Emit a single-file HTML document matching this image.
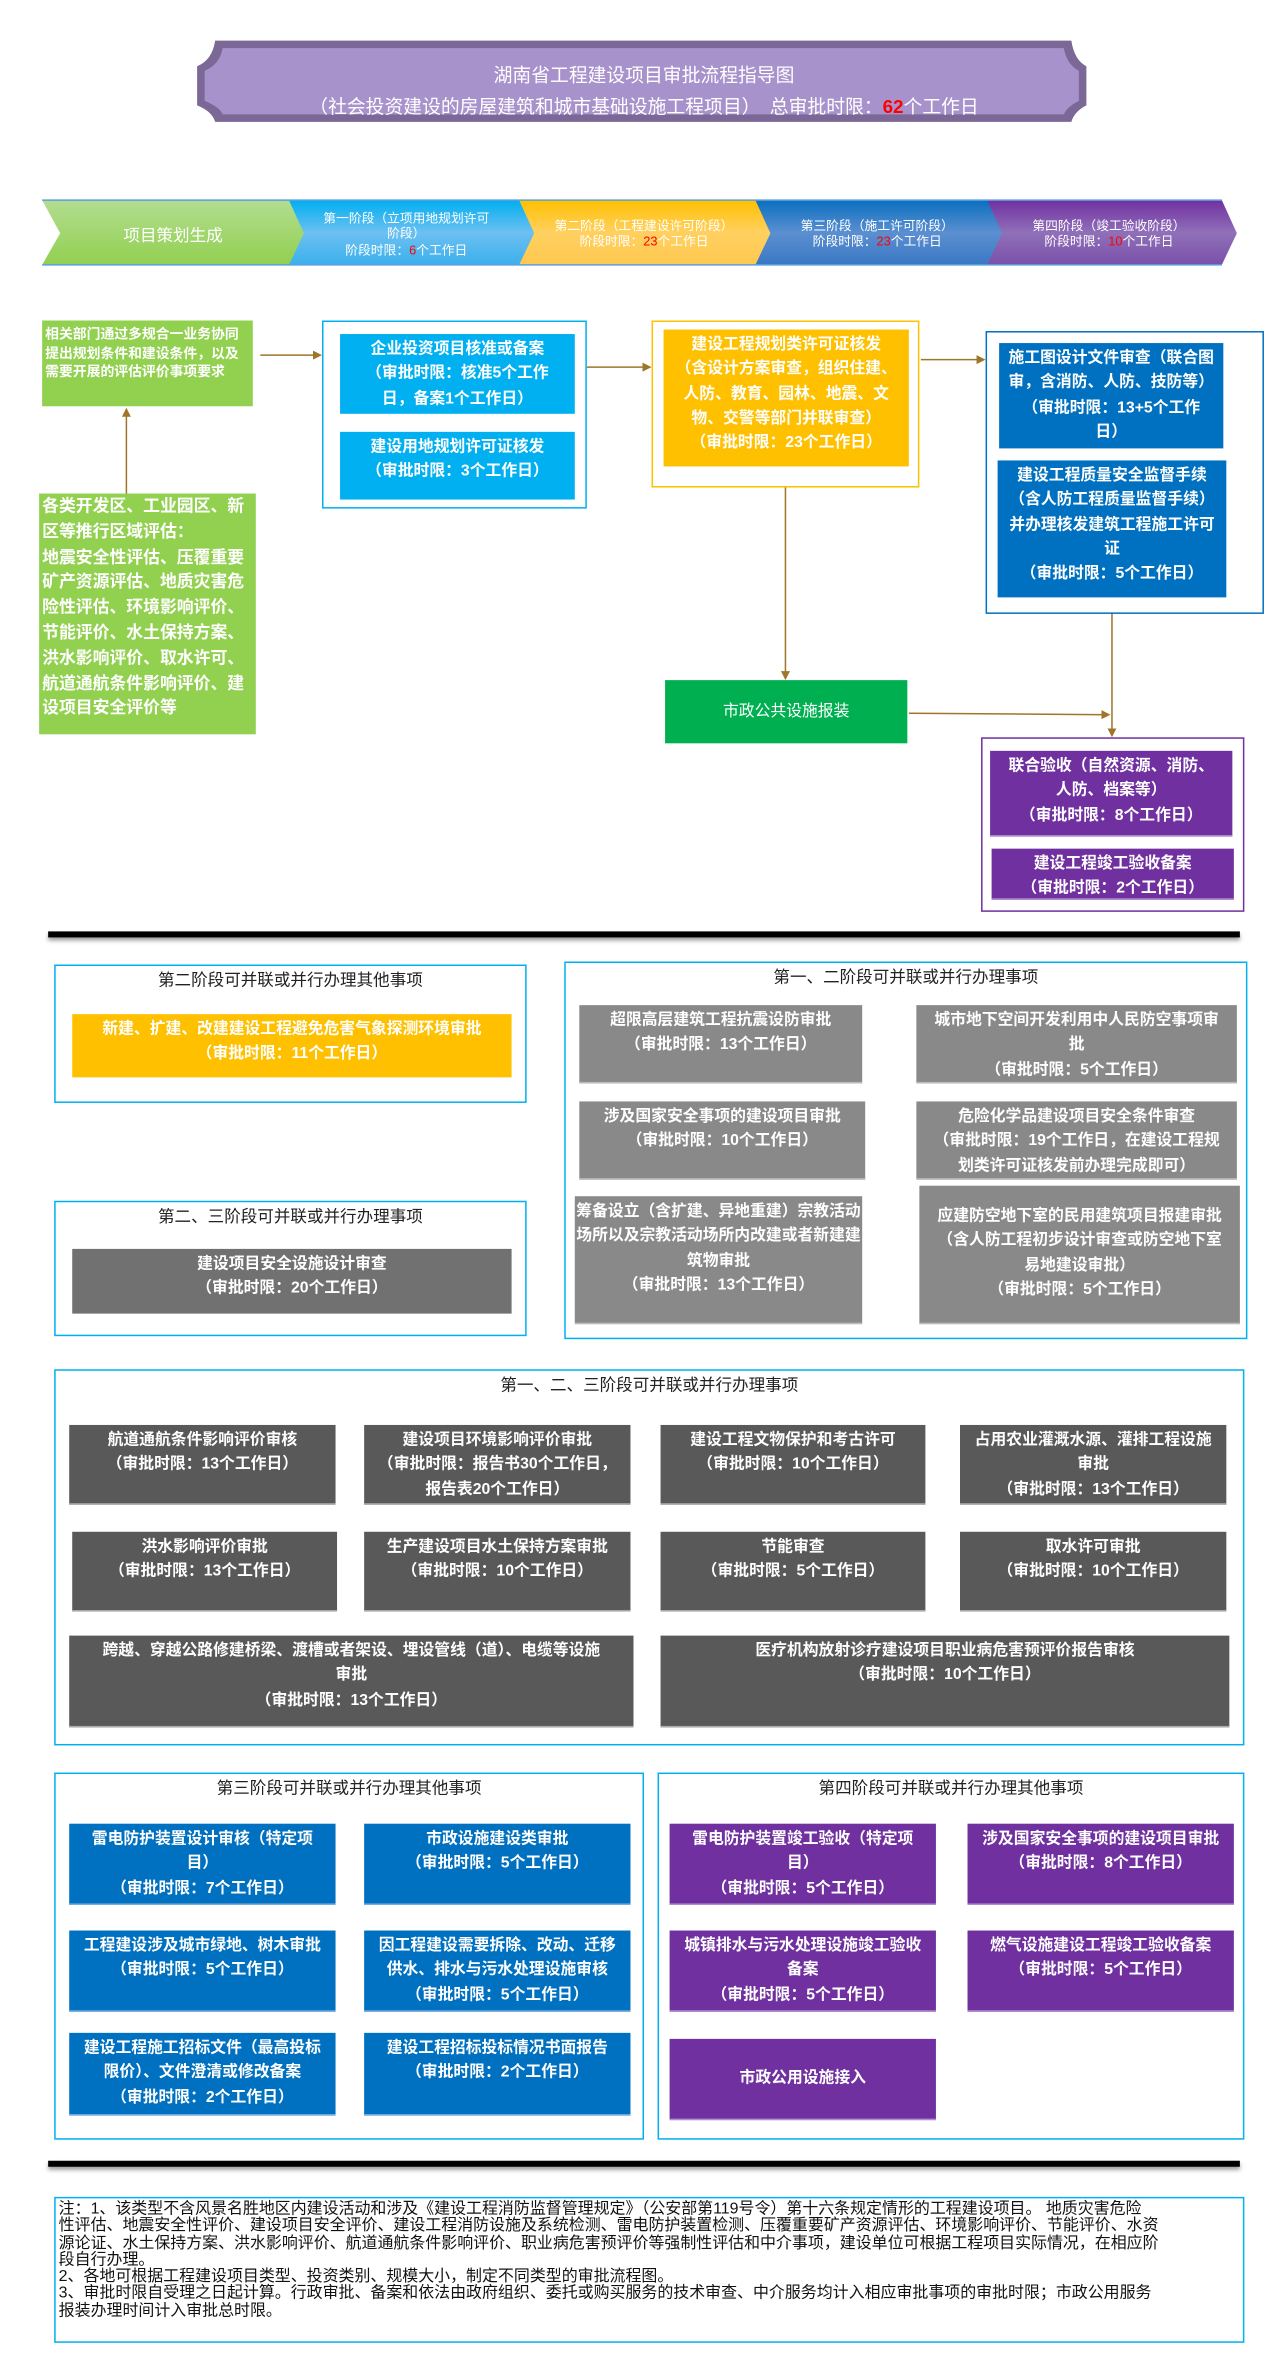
<!DOCTYPE html>
<html><head><meta charset="utf-8">
<style>
html,body{margin:0;padding:0;background:#fff;}
body{width:1288px;height:2363px;overflow:hidden;position:relative;}
#s{position:absolute;left:0;top:0;width:856px;height:1571px;transform:scale(1.5047);transform-origin:0 0;font-family:"Liberation Sans","Noto Sans CJK SC",sans-serif;}
.a{position:absolute;box-sizing:border-box;}
.b{position:absolute;box-sizing:border-box;display:flex;flex-direction:column;align-items:center;justify-content:flex-start;text-align:center;color:#fff;font-weight:bold;font-size:10.5px;line-height:16.3px;padding-top:2px;}
.c{justify-content:center;padding-top:0;}
.g{background:#898989;border-bottom:1px solid #bbb;}
.d{background:#595959;border-bottom:1px solid #aaa;}
.bl{background:#0070c0;border-bottom:1px solid #7aaee0;}
.pu{background:#7030a0;border-bottom:1px solid #b090d0;}
.frame{position:absolute;box-sizing:border-box;border:1px solid #00b0f0;}
.t{position:absolute;font-size:11px;color:#222;text-align:center;}
</style></head><body><div id="s">

<svg class="a" style="left:0;top:0" width="856" height="200">
<path d="M143,27 H712 Q714,40 722,44 V70 Q714,74 712,81 H143 Q141,74 131,70 V44 Q141,40 143,27 Z" fill="#7b6896"/>
<path d="M148,32 H707 Q709,43 717,47 V67 Q709,71 707,76 H148 Q146,71 136,67 V47 Q146,43 148,32 Z" fill="#a892cc"/>
<text x="428" y="54" text-anchor="middle" font-size="12.5" fill="#fff" font-family="Liberation Sans,Noto Sans CJK SC,sans-serif">湖南省工程建设项目审批流程指导图</text>
<text x="428" y="75" text-anchor="middle" font-size="12.5" fill="#fff" font-family="Liberation Sans,Noto Sans CJK SC,sans-serif">（社会投资建设的房屋建筑和城市基础设施工程项目）　总审批时限：<tspan fill="#f00" font-weight="bold">62</tspan>个工作日</text>
<defs>
<linearGradient id="g1" x1="0" y1="0" x2="0" y2="1"><stop offset="0" stop-color="#b2dd90"/><stop offset="1" stop-color="#92d050"/></linearGradient>
<linearGradient id="g2" x1="0" y1="0" x2="0" y2="1"><stop offset="0" stop-color="#00aeef"/><stop offset=".5" stop-color="#6cc0f2"/><stop offset="1" stop-color="#3cb0ec"/></linearGradient>
<linearGradient id="g3" x1="0" y1="0" x2="0" y2="1"><stop offset="0" stop-color="#ffc000"/><stop offset=".5" stop-color="#ffd060"/><stop offset="1" stop-color="#ffc850"/></linearGradient>
<linearGradient id="g4" x1="0" y1="0" x2="0" y2="1"><stop offset="0" stop-color="#0a6fc0"/><stop offset=".5" stop-color="#5b8fd0"/><stop offset="1" stop-color="#3a78c4"/></linearGradient>
<linearGradient id="g5" x1="0" y1="0" x2="0" y2="1"><stop offset="0" stop-color="#7030a0"/><stop offset=".5" stop-color="#9070b8"/><stop offset="1" stop-color="#7a50aa"/></linearGradient>
</defs>
<polygon points="650,133 812,133 822,155 812,176 650,176 660,155" fill="url(#g5)"/>
<polygon points="497,133 656,133 666,155 656,176 497,176 507,155" fill="url(#g4)"/>
<polygon points="340,133 502,133 512,155 502,176 340,176 350,155" fill="url(#g3)"/>
<polygon points="182,133 345,133 355,155 345,176 182,176 192,155" fill="url(#g2)"/>
<polygon points="28,133 192,133 202,155 192,176 28,176 40,155" fill="url(#g1)"/>
<line x1="28" y1="133" x2="812" y2="133" stroke="#5aa0e0" stroke-width="1"/>
<line x1="28" y1="176" x2="812" y2="176" stroke="#5aa0e0" stroke-width="1"/>
<g font-family="Liberation Sans,Noto Sans CJK SC,sans-serif" fill="#fff" text-anchor="middle">
<text x="115" y="160" font-size="11">项目策划生成</text>
<text x="270" y="148" font-size="8.5">第一阶段（立项用地规划许可</text>
<text x="270" y="158" font-size="8.5">阶段）</text>
<text x="270" y="169" font-size="8.5">阶段时限：<tspan fill="#f00">6</tspan>个工作日</text>
<text x="428" y="153" font-size="8.5">第二阶段（工程建设许可阶段）</text>
<text x="428" y="163" font-size="8.5">阶段时限：<tspan fill="#f00">23</tspan>个工作日</text>
<text x="583" y="153" font-size="8.5">第三阶段（施工许可阶段）</text>
<text x="583" y="163" font-size="8.5">阶段时限：<tspan fill="#f00">23</tspan>个工作日</text>
<text x="737" y="153" font-size="8.5">第四阶段（竣工验收阶段）</text>
<text x="737" y="163" font-size="8.5">阶段时限：<tspan fill="#f00">10</tspan>个工作日</text>
</g>
</svg>

<svg class="a" style="left:0;top:200" width="856" height="430">
<defs><marker id="ar" markerWidth="6" markerHeight="6" refX="5" refY="3" orient="auto"><path d="M0,0 L6,3 L0,6 Z" fill="#a0742a"/></marker></defs>
<g stroke="#a0742a" stroke-width="1" fill="none">
<line x1="173" y1="36" x2="213" y2="36" marker-end="url(#ar)"/>
<line x1="84" y1="128" x2="84" y2="72" marker-end="url(#ar)"/>
<line x1="390" y1="44" x2="432" y2="44" marker-end="url(#ar)"/>
<line x1="612" y1="39" x2="654" y2="39" marker-end="url(#ar)"/>
<line x1="522" y1="124" x2="522" y2="251" marker-end="url(#ar)"/>
<line x1="604" y1="274" x2="737" y2="275" marker-end="url(#ar)"/>
<line x1="739" y1="207" x2="739" y2="289" marker-end="url(#ar)"/>
</g>
</svg>

<div class="b" style="left:28px;top:213px;width:140px;height:57px;background:#92d050;font-size:9.2px;line-height:12.5px;align-items:flex-start;text-align:left;padding:3px 2px;white-space:nowrap;">相关部门通过多规合一业务协同<br>提出规划条件和建设条件，以及<br>需要开展的评估评价事项要求</div>
<div class="b" style="left:26px;top:328px;width:144px;height:160px;background:#92d050;font-size:11.2px;line-height:16.8px;align-items:flex-start;text-align:left;padding:1px 2px;white-space:nowrap;">各类开发区、工业园区、新<br>区等推行区域评估：<br>地震安全性评估、压覆重要<br>矿产资源评估、地质灾害危<br>险性评估、环境影响评价、<br>节能评价、水土保持方案、<br>洪水影响评价、取水许可、<br>航道通航条件影响评价、建<br>设项目安全评价等</div>

<div class="frame" style="left:214px;top:213px;width:176px;height:125px;"></div>
<div class="b" style="left:226px;top:222px;width:156px;height:53px;background:#00b0f0;">企业投资项目核准或备案<br>（审批时限：核准5个工作<br>日，备案1个工作日）</div>
<div class="b" style="left:226px;top:287px;width:156px;height:45px;background:#00b0f0;">建设用地规划许可证核发<br>（审批时限：3个工作日）</div>

<div class="frame" style="left:433px;top:213px;width:178px;height:111px;border-color:#ffc000;"></div>
<div class="b" style="left:441px;top:219px;width:163px;height:91px;background:#ffc000;">建设工程规划类许可证核发<br>（含设计方案审查，组织住建、<br>人防、教育、园林、地震、文<br>物、交警等部门并联审查）<br>（审批时限：23个工作日）</div>

<div class="frame" style="left:655px;top:220px;width:185px;height:188px;border-color:#0070c0;"></div>
<div class="b" style="left:664px;top:228px;width:149px;height:70px;background:#0070c0;">施工图设计文件审查（联合图<br>审，含消防、人防、技防等）<br>（审批时限：13+5个工作<br>日）</div>
<div class="b" style="left:663px;top:306px;width:152px;height:91px;background:#0070c0;">建设工程质量安全监督手续<br>（含人防工程质量监督手续）<br>并办理核发建筑工程施工许可<br>证<br>（审批时限：5个工作日）</div>

<div class="b c" style="left:442px;top:452px;width:161px;height:42px;background:#00b050;font-weight:normal;font-size:10.5px;">市政公共设施报装</div>

<div class="frame" style="left:652px;top:490px;width:175px;height:116px;border-color:#7030a0;"></div>
<div class="b pu" style="left:658px;top:499px;width:161px;height:57px;">联合验收（自然资源、消防、<br>人防、档案等）<br>（审批时限：8个工作日）</div>
<div class="b pu" style="left:659px;top:564px;width:161px;height:34px;">建设工程竣工验收备案<br>（审批时限：2个工作日）</div>

<div class="a" style="left:32px;top:619px;width:792px;height:4px;background:#000;box-shadow:0 2px 3px #999;"></div>

<div class="frame" style="left:36px;top:641px;width:314px;height:92px;"></div>
<div class="t" style="left:36px;top:643px;width:314px;">第二阶段可并联或并行办理其他事项</div>
<div class="b" style="left:48px;top:674px;width:292px;height:42px;background:#ffc000;">新建、扩建、改建建设工程避免危害气象探测环境审批<br>（审批时限：11个工作日）</div>

<div class="frame" style="left:36px;top:798px;width:314px;height:90px;"></div>
<div class="t" style="left:36px;top:800px;width:314px;">第二、三阶段可并联或并行办理事项</div>
<div class="b" style="left:48px;top:830px;width:292px;height:43px;background:#717171;">建设项目安全设施设计审查<br>（审批时限：20个工作日）</div>

<div class="frame" style="left:375px;top:639px;width:454px;height:251px;"></div>
<div class="t" style="left:375px;top:641px;width:454px;">第一、二阶段可并联或并行办理事项</div>
<div class="b g" style="left:385px;top:668px;width:188px;height:52px;">超限高层建筑工程抗震设防审批<br>（审批时限：13个工作日）</div>
<div class="b g" style="left:609px;top:668px;width:213px;height:52px;">城市地下空间开发利用中人民防空事项审<br>批<br>（审批时限：5个工作日）</div>
<div class="b g" style="left:385px;top:732px;width:190px;height:52px;">涉及国家安全事项的建设项目审批<br>（审批时限：10个工作日）</div>
<div class="b g" style="left:609px;top:732px;width:213px;height:52px;">危险化学品建设项目安全条件审查<br>（审批时限：19个工作日，在建设工程规<br>划类许可证核发前办理完成即可）</div>
<div class="b g" style="left:382px;top:795px;width:191px;height:85px;">筹备设立（含扩建、异地重建）宗教活动<br>场所以及宗教活动场所内改建或者新建建<br>筑物审批<br>（审批时限：13个工作日）</div>
<div class="b g" style="left:611px;top:788px;width:213px;height:92px;padding-top:12px;">应建防空地下室的民用建筑项目报建审批<br>（含人防工程初步设计审查或防空地下室<br>易地建设审批）<br>（审批时限：5个工作日）</div>

<div class="frame" style="left:36px;top:910px;width:791px;height:250px;"></div>
<div class="t" style="left:36px;top:912px;width:791px;">第一、二、三阶段可并联或并行办理事项</div>
<div class="b d" style="left:46px;top:947px;width:177px;height:53px;">航道通航条件影响评价审核<br>（审批时限：13个工作日）</div>
<div class="b d" style="left:242px;top:947px;width:177px;height:53px;">建设项目环境影响评价审批<br>（审批时限：报告书30个工作日，<br>报告表20个工作日）</div>
<div class="b d" style="left:439px;top:947px;width:176px;height:53px;">建设工程文物保护和考古许可<br>（审批时限：10个工作日）</div>
<div class="b d" style="left:638px;top:947px;width:177px;height:53px;">占用农业灌溉水源、灌排工程设施<br>审批<br>（审批时限：13个工作日）</div>
<div class="b d" style="left:48px;top:1018px;width:176px;height:53px;">洪水影响评价审批<br>（审批时限：13个工作日）</div>
<div class="b d" style="left:242px;top:1018px;width:177px;height:53px;">生产建设项目水土保持方案审批<br>（审批时限：10个工作日）</div>
<div class="b d" style="left:439px;top:1018px;width:176px;height:53px;">节能审查<br>（审批时限：5个工作日）</div>
<div class="b d" style="left:638px;top:1018px;width:177px;height:53px;">取水许可审批<br>（审批时限：10个工作日）</div>
<div class="b d" style="left:46px;top:1087px;width:375px;height:61px;">跨越、穿越公路修建桥梁、渡槽或者架设、埋设管线（道）、电缆等设施<br>审批<br>（审批时限：13个工作日）</div>
<div class="b d" style="left:439px;top:1087px;width:378px;height:61px;">医疗机构放射诊疗建设项目职业病危害预评价报告审核<br>（审批时限：10个工作日）</div>

<div class="frame" style="left:36px;top:1178px;width:392px;height:244px;"></div>
<div class="t" style="left:36px;top:1180px;width:392px;">第三阶段可并联或并行办理其他事项</div>
<div class="b bl" style="left:46px;top:1212px;width:177px;height:54px;">雷电防护装置设计审核（特定项<br>目）<br>（审批时限：7个工作日）</div>
<div class="b bl" style="left:242px;top:1212px;width:177px;height:54px;">市政设施建设类审批<br>（审批时限：5个工作日）</div>
<div class="b bl" style="left:46px;top:1283px;width:177px;height:54px;">工程建设涉及城市绿地、树木审批<br>（审批时限：5个工作日）</div>
<div class="b bl" style="left:242px;top:1283px;width:177px;height:54px;">因工程建设需要拆除、改动、迁移<br>供水、排水与污水处理设施审核<br>（审批时限：5个工作日）</div>
<div class="b bl" style="left:46px;top:1351px;width:177px;height:55px;">建设工程施工招标文件（最高投标<br>限价）、文件澄清或修改备案<br>（审批时限：2个工作日）</div>
<div class="b bl" style="left:242px;top:1351px;width:177px;height:55px;">建设工程招标投标情况书面报告<br>（审批时限：2个工作日）</div>

<div class="frame" style="left:437px;top:1178px;width:390px;height:244px;"></div>
<div class="t" style="left:437px;top:1180px;width:390px;">第四阶段可并联或并行办理其他事项</div>
<div class="b pu" style="left:445px;top:1212px;width:177px;height:54px;">雷电防护装置竣工验收（特定项<br>目）<br>（审批时限：5个工作日）</div>
<div class="b pu" style="left:643px;top:1212px;width:177px;height:54px;">涉及国家安全事项的建设项目审批<br>（审批时限：8个工作日）</div>
<div class="b pu" style="left:445px;top:1283px;width:177px;height:54px;">城镇排水与污水处理设施竣工验收<br>备案<br>（审批时限：5个工作日）</div>
<div class="b pu" style="left:643px;top:1283px;width:177px;height:54px;">燃气设施建设工程竣工验收备案<br>（审批时限：5个工作日）</div>
<div class="b pu c" style="left:445px;top:1355px;width:177px;height:54px;">市政公用设施接入</div>

<div class="a" style="left:32px;top:1436px;width:792px;height:4px;background:#000;box-shadow:0 2px 3px #999;"></div>

<div class="frame" style="left:36px;top:1460px;width:791px;height:97px;"></div>
<div class="a" style="left:39px;top:1463px;width:790px;font-size:10.6px;line-height:11.3px;color:#111;white-space:nowrap;">注：1、该类型不含风景名胜地区内建设活动和涉及《建设工程消防监督管理规定》（公安部第119号令）第十六条规定情形的工程建设项目。 地质灾害危险<br>性评估、地震安全性评价、建设项目安全评价、建设工程消防设施及系统检测、雷电防护装置检测、压覆重要矿产资源评估、环境影响评价、节能评价、水资<br>源论证、水土保持方案、洪水影响评价、航道通航条件影响评价、职业病危害预评价等强制性评估和中介事项，建设单位可根据工程项目实际情况，在相应阶<br>段自行办理。<br>2、各地可根据工程建设项目类型、投资类别、规模大小，制定不同类型的审批流程图。<br>3、审批时限自受理之日起计算。行政审批、备案和依法由政府组织、委托或购买服务的技术审查、中介服务均计入相应审批事项的审批时限；市政公用服务<br>报装办理时间计入审批总时限。</div>

</div></body></html>
